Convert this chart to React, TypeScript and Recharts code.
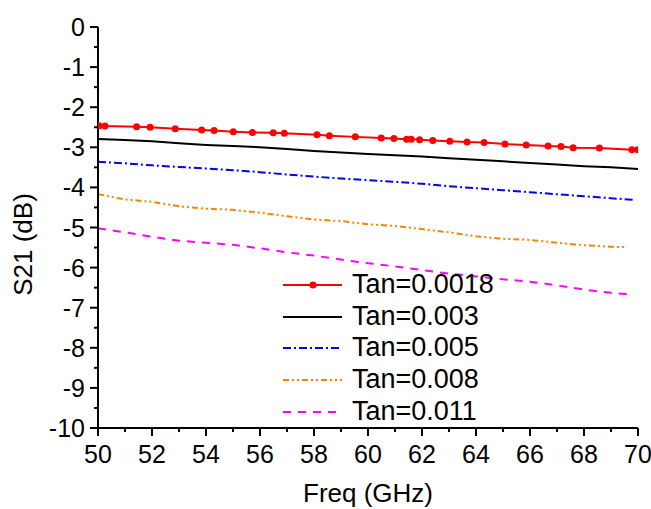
import { LineChart, Line, XAxis, YAxis, Legend, Label } from "recharts";

const FONT = '"Liberation Sans", Arial, sans-serif';

// x ticks (GHz) and y ticks (dB); labels only on the major ones
const xTicks = [50, 51, 52, 53, 54, 55, 56, 57, 58, 59, 60, 61, 62, 63, 64, 65, 66, 67, 68, 69, 70];
const yTicks = [-10, -9.5, -9, -8.5, -8, -7.5, -7, -6.5, -6, -5.5, -5, -4.5, -4, -3.5, -3, -2.5, -2, -1.5, -1, -0.5, 0];

// Tan=0.0018 (markers sit at irregular frequencies)
const redF = [50.04, 50.26, 51.43, 51.93, 52.86, 53.84, 54.3, 55.01, 55.72, 56.49, 56.9, 58.11, 58.57, 59.53, 60.49, 60.96, 61.43, 61.6, 61.91, 62.4, 63.03, 63.67, 64.3, 65.07, 65.86, 66.67, 67.15, 67.6, 68.57, 69.77, 69.99];
const redV = [-2.46, -2.47, -2.49, -2.5, -2.54, -2.57, -2.58, -2.61, -2.63, -2.64, -2.65, -2.69, -2.71, -2.74, -2.77, -2.78, -2.8, -2.8, -2.81, -2.83, -2.85, -2.87, -2.88, -2.92, -2.94, -2.97, -2.98, -3.01, -3.02, -3.06, -3.06];

// Tan=0.003
const blackF = [50, 51, 52, 53, 54, 55, 56, 57, 58, 59, 60, 61, 62, 63, 64, 65, 66, 67, 68, 69, 70];
const blackV = [-2.79, -2.82, -2.85, -2.9, -2.94, -2.97, -3.0, -3.04, -3.09, -3.13, -3.17, -3.2, -3.23, -3.27, -3.31, -3.35, -3.39, -3.43, -3.47, -3.5, -3.54];

// Tan=0.005
const blueF = [50, 51, 52, 53, 54, 55, 56, 57, 58, 59, 60, 61, 62, 63, 64, 65, 66, 67, 68, 69, 69.8];
const blueV = [-3.36, -3.4, -3.45, -3.49, -3.53, -3.57, -3.62, -3.68, -3.73, -3.78, -3.82, -3.86, -3.91, -3.97, -4.02, -4.07, -4.12, -4.17, -4.22, -4.27, -4.31];

// Tan=0.008
const orangeF = [50, 51, 52, 53, 54, 55, 56, 57, 58, 59, 60, 61, 62, 63, 64, 65, 66, 67, 68, 69, 69.6];
const orangeV = [-4.17, -4.3, -4.36, -4.47, -4.53, -4.56, -4.63, -4.72, -4.8, -4.84, -4.92, -4.96, -5.04, -5.12, -5.22, -5.28, -5.31, -5.38, -5.44, -5.48, -5.49];

// Tan=0.011
const magentaF = [50, 51, 52, 53, 54, 55, 56, 57, 58, 59, 60, 61, 62, 63, 64, 65, 66, 67, 68, 69, 69.6];
const magentaV = [-5.02, -5.12, -5.23, -5.33, -5.38, -5.43, -5.52, -5.62, -5.7, -5.8, -5.89, -5.97, -6.06, -6.15, -6.22, -6.29, -6.35, -6.44, -6.55, -6.63, -6.66];

const toRows = (f: number[], v: number[]) => f.map((x, i) => ({ f: x, v: v[i] }));

const series = [
  { name: "Tan=0.0018", color: "#ff0000", dash: undefined, dot: true, data: toRows(redF, redV) },
  { name: "Tan=0.003", color: "#000000", dash: undefined, dot: false, data: toRows(blackF, blackV) },
  { name: "Tan=0.005", color: "#0000ff", dash: "8 3 2 3", dot: false, data: toRows(blueF, blueV) },
  { name: "Tan=0.008", color: "#ff8000", dash: "6 3 2 3 2 3", dot: false, data: toRows(orangeF, orangeV) },
  { name: "Tan=0.011", color: "#ff00ff", dash: "8 7", dot: false, data: toRows(magentaF, magentaV) },
];

function XTick({ x, y, payload }: any) {
  const major = payload.value % 2 === 0;
  return (
    <g>
      <line x1={x} x2={x} y1={y} y2={y + (major ? 8 : 4)} stroke="#000" strokeWidth={2} />
      {major && (
        <text x={x} y={y + 26} textAnchor="middle" dominantBaseline="central" fontSize={25} fontFamily={FONT} fill="#000">
          {payload.value}
        </text>
      )}
    </g>
  );
}

function YTick({ x, y, payload }: any) {
  const major = Number.isInteger(payload.value);
  return (
    <g>
      <line x1={x - (major ? 8 : 4)} x2={x} y1={y} y2={y} stroke="#000" strokeWidth={2} />
      {major && (
        <text x={x - 13} y={y} textAnchor="end" dominantBaseline="central" fontSize={25} fontFamily={FONT} fill="#000">
          {payload.value}
        </text>
      )}
    </g>
  );
}

function LegendBox() {
  return (
    <div style={{ fontFamily: FONT, fontSize: 27, color: "#000" }}>
      {series.map((s) => (
        <div key={s.name} style={{ display: "flex", alignItems: "center", height: 31.7 }}>
          <svg width={60} height={10} style={{ display: "block" }}>
            <line x1={0} x2={59} y1={5} y2={5} stroke={s.color} strokeWidth={2} strokeDasharray={s.dash} />
            {s.dot && <circle cx={30} cy={5} r={3.5} fill={s.color} />}
          </svg>
          <span style={{ marginLeft: 9, whiteSpace: "nowrap", lineHeight: "31.7px" }}>{s.name}</span>
        </div>
      ))}
    </div>
  );
}

export default function App() {
  return (
    <div style={{ position: "absolute", left: 0, top: 0, background: "#fff" }}>
      <LineChart width={651} height={509} margin={{ top: 27, right: 13, left: 0, bottom: 0 }}>
        <XAxis
          type="number"
          dataKey="f"
          domain={[50, 70]}
          ticks={xTicks}
          interval={0}
          tickSize={0}
          tickMargin={0}
          tick={<XTick />}
          tickLine={false}
          axisLine={{ stroke: "#000", strokeWidth: 2 }}
          height={81}
          allowDataOverflow
        >
          <Label
            content={({ viewBox }: any) => (
              <text x={viewBox.x + viewBox.width / 2} y={viewBox.y + 65} textAnchor="middle" dominantBaseline="central" fontSize={26} fontFamily={FONT} fill="#000">
                Freq (GHz)
              </text>
            )}
          />
        </XAxis>
        <YAxis
          type="number"
          domain={[-10, 0]}
          ticks={yTicks}
          interval={0}
          tickSize={0}
          tickMargin={0}
          tick={<YTick />}
          tickLine={false}
          axisLine={{ stroke: "#000", strokeWidth: 2 }}
          width={98}
          allowDataOverflow
        >
          <Label
            content={({ viewBox }: any) => {
              const cx = 23;
              const cy = viewBox.y + viewBox.height / 2 + 17;
              return (
                <text x={cx} y={cy} transform={`rotate(-90 ${cx} ${cy})`} textAnchor="middle" dominantBaseline="central" fontSize={26} fontFamily={FONT} fill="#000">
                  S21 (dB)
                </text>
              );
            }}
          />
        </YAxis>
        <Legend
          layout="vertical"
          align="center"
          verticalAlign="middle"
          wrapperStyle={{ left: 283, top: 269, width: 240 }}
          content={() => <LegendBox />}
        />
        {series.map((s) => (
          <Line
            key={s.name}
            data={s.data}
            dataKey="v"
            name={s.name}
            type="linear"
            stroke={s.color}
            strokeWidth={2}
            strokeDasharray={s.dash}
            dot={s.dot ? { r: 3.5, fill: s.color, stroke: s.color, strokeWidth: 0 } : false}
            activeDot={false}
            isAnimationActive={false}
          />
        ))}
      </LineChart>
    </div>
  );
}
